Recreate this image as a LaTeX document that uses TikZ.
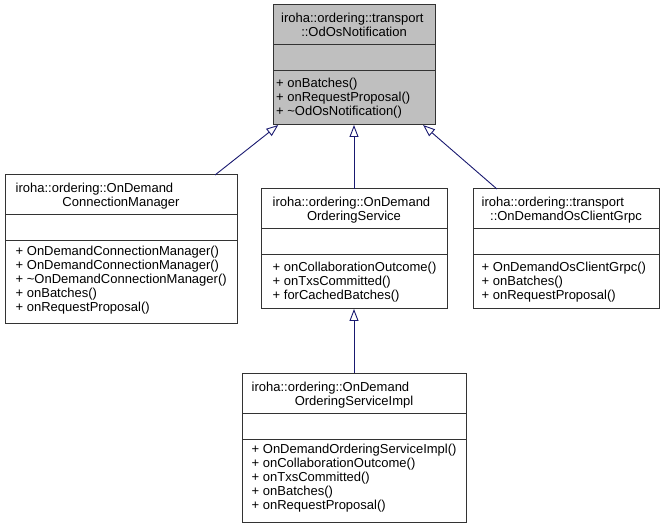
\documentclass[tikz,border=0pt]{standalone}
\usepackage{fontspec}
\setmainfont{Liberation Sans}
\usetikzlibrary{arrows.meta,calc}
\definecolor{edgeblue}{HTML}{191970}
\definecolor{boxgray}{HTML}{BFBFBF}
\begin{document}
\begin{tikzpicture}[x=1pt,y=-1pt,
  classbox/.style={draw=black!80, line width=1pt, rectangle, inner sep=0pt, outer sep=0pt},
  divider/.style={draw=black!80, line width=1pt},
  txt/.style={font=\fontsize{13}{14}\selectfont, inner sep=0pt, text=black},
  ttlA/.style={txt, anchor=base west},
  ttlB/.style={txt, anchor=base},
  mth/.style={txt, align=left, anchor=west},
  inherit/.style={draw=edgeblue, line width=0.9pt, -{Triangle[open, length=12pt, width=9pt, line width=0.9pt]}}
]
\useasboundingbox (0,0) rectangle (664,529);

% boxes
\node[classbox, fill=boxgray, minimum width=162pt, minimum height=120pt] (T) at (354,65) {};
\node[classbox, minimum width=232pt, minimum height=149pt] (L) at (121,249.5) {};
\node[classbox, minimum width=186pt, minimum height=120pt] (M) at (354,249) {};
\node[classbox, minimum width=186pt, minimum height=120pt] (R) at (566,249) {};
\node[classbox, minimum width=224pt, minimum height=149pt] (B) at (354,447.5) {};

% dividers
\foreach \n in {T,L,M,R,B}{
  \draw[divider] ($(\n.north west)+(0,40)$) -- ($(\n.north east)+(0,40)$);
  \draw[divider] ($(\n.north west)+(0,66)$) -- ($(\n.north east)+(0,66)$);
}

% titles (first line left-justified, second line centred)
\node[ttlA] (Tt1) at ($(T.north west)+(8,18)$) {iroha::ordering::transport};
\node[ttlB] (Tt2) at ($(T.north)+(0,32)$) {::OdOsNotification};
\node[ttlA] (Lt1) at ($(L.north west)+(10.5,18)$) {iroha::ordering::OnDemand};
\node[ttlB] (Lt2) at ($(L.north)+(0,32)$) {ConnectionManager};
\node[ttlA] (Mt1) at ($(M.north west)+(11.5,18)$) {iroha::ordering::OnDemand};
\node[ttlB] (Mt2) at ($(M.north)+(0,32)$) {OrderingService};
\node[ttlA] (Rt1) at ($(R.north west)+(8.5,18)$) {iroha::ordering::transport};
\node[ttlB] (Rt2) at ($(R.north)+(0,32)$) {::OnDemandOsClientGrpc};
\node[ttlA] (Bt1) at ($(B.north west)+(9.5,18)$) {iroha::ordering::OnDemand};
\node[ttlB] (Bt2) at ($(B.north)+(0,32)$) {OrderingServiceImpl};

% methods
\node[mth] (Tm) at ($(T.north west)+(3,93)$) {+ onBatches()\\+ onRequestProposal()\\+ \textasciitilde OdOsNotification()};
\node[mth] (Lm) at ($(L.north west)+(10.5,105)$) {+ OnDemandConnectionManager()\\+ OnDemandConnectionManager()\\+ \textasciitilde OnDemandConnectionManager()\\+ onBatches()\\+ onRequestProposal()};
\node[mth] (Mm) at ($(M.north west)+(11.5,93)$) {+ onCollaborationOutcome()\\+ onTxsCommitted()\\+ forCachedBatches()};
\node[mth] (Rm) at ($(R.north west)+(8.5,93)$) {+ OnDemandOsClientGrpc()\\+ onBatches()\\+ onRequestProposal()};
\node[mth] (Bm) at ($(B.north west)+(9.5,105)$) {+ OnDemandOrderingServiceImpl()\\+ onCollaborationOutcome()\\+ onTxsCommitted()\\+ onBatches()\\+ onRequestProposal()};

% inheritance
\draw[inherit] (L) -- (T);
\draw[inherit] (M) -- (T);
\draw[inherit] (R) -- (T);
\draw[inherit] (B) -- (M);
\end{tikzpicture}
\end{document}
